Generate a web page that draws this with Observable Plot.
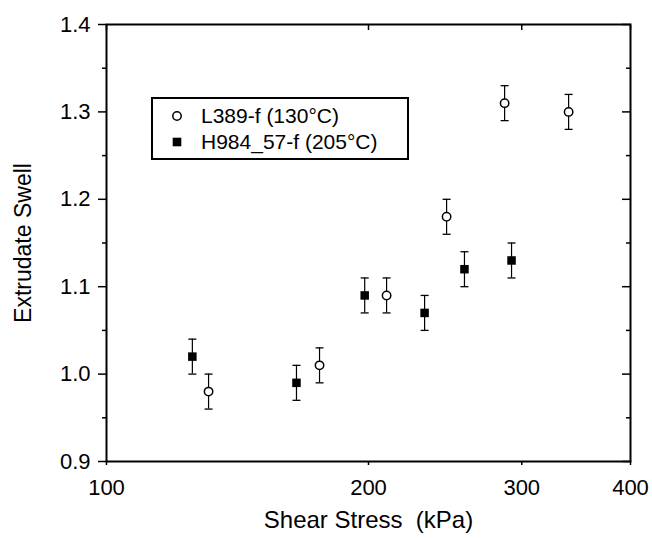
<!DOCTYPE html>
<html>
<head>
<meta charset="utf-8">
<script src="https://cdn.jsdelivr.net/npm/d3@7"></script>
<script src="https://cdn.jsdelivr.net/npm/@observablehq/plot@0.6"></script>
<style>
  html, body { margin: 0; padding: 0; background: #fff; }
  #wrap { position: relative; width: 652px; height: 538px; font-family: "Liberation Sans", Arial, sans-serif; }
  #legend { position: absolute; left: 151px; top: 97px; width: 254px; height: 59px; border: 2px solid #000; background: #fff; }
  .entry { position: absolute; left: 0; display: flex; align-items: center; font-size: 21px; line-height: 24px; color: #000; white-space: nowrap; }
  .entry svg { margin-left: 18px; margin-right: 18px; }
</style>
</head>
<body>
<div id="wrap"></div>
<script>
// ---- data ----
const seriesNames = ["L389-f (130°C)", "H984_57-f (205°C)"];
const l389Stress = [131, 175.7, 209.8, 245.9, 286.7, 339.6];
const l389Swell  = [0.98, 1.01, 1.09, 1.18, 1.31, 1.30];
const h984Stress = [125.5, 165.3, 198, 232, 257.8, 292];
const h984Swell  = [1.02, 0.99, 1.09, 1.07, 1.12, 1.13];
const swellError = 0.02;
const xTicks = [100, 200, 300, 400];
const yMajor = [0.9, 1.0, 1.1, 1.2, 1.3, 1.4];
const yMinor = [0.95, 1.05, 1.15, 1.25, 1.35];
const xTitle = "Shear Stress \u00a0(kPa)";
const yTitle = "Extrudate Swell";

const l389 = l389Stress.map((x, i) => ({x, y: l389Swell[i], lo: l389Swell[i] - swellError, hi: l389Swell[i] + swellError}));
const h984 = h984Stress.map((x, i) => ({x, y: h984Swell[i], lo: h984Swell[i] - swellError, hi: h984Swell[i] + swellError}));
const all = l389.concat(h984);

const cap = { draw(ctx, size) { ctx.moveTo(-4, 0); ctx.lineTo(4, 0); } };

const font = "Liberation Sans, Arial, sans-serif";

const chart = Plot.plot({
  width: 652,
  height: 538,
  marginLeft: 106,
  marginRight: 22,
  marginTop: 24,
  marginBottom: 77,
  style: { fontFamily: font, fontSize: "22px", color: "#000", background: "#fff" },
  x: { type: "log", domain: [100, 400] },
  y: { domain: [0.9, 1.4] },
  marks: [
    // axes
    Plot.axisX({ anchor: "bottom", ticks: xTicks, tickSize: 4, tickPadding: 14, tickFormat: d3.format("d"), fontSize: 22, label: null, strokeWidth: 1.5 }),
    Plot.axisX({ anchor: "top", ticks: xTicks, tickSize: -5, tickFormat: () => "", label: null, strokeWidth: 1.5 }),
    Plot.axisY({ anchor: "left", ticks: yMajor, tickSize: 8, tickPadding: 8, tickFormat: d3.format(".1f"), fontSize: 22, label: null, strokeWidth: 1.5 }),
    Plot.axisY({ anchor: "left", ticks: yMinor, tickSize: 4, tickFormat: () => "", label: null, strokeWidth: 1.5 }),
    Plot.axisY({ anchor: "right", ticks: yMajor, tickSize: -9, tickFormat: () => "", label: null, strokeWidth: 1.5 }),
    Plot.axisY({ anchor: "right", ticks: yMinor, tickSize: -5, tickFormat: () => "", label: null, strokeWidth: 1.5 }),
    Plot.frame({ stroke: "#000", strokeWidth: 2 }),
    // error bars
    Plot.ruleX(all, { x: "x", y1: "lo", y2: "hi", stroke: "#000", strokeWidth: 1.2 }),
    Plot.dot(all, { x: "x", y: "lo", symbol: cap, stroke: "#000", strokeWidth: 1.3, fill: "none" }),
    Plot.dot(all, { x: "x", y: "hi", symbol: cap, stroke: "#000", strokeWidth: 1.3, fill: "none" }),
    // points
    Plot.dot(l389, { x: "x", y: "y", r: 4.2, symbol: "circle", fill: "#fff", stroke: "#000", strokeWidth: 1.5 }),
    Plot.dot(h984, { x: "x", y: "y", r: 4.8, symbol: "square", fill: "#000", stroke: "none" }),
    // titles
    Plot.text([xTitle], { frameAnchor: "bottom", lineAnchor: "middle", textAnchor: "middle", dy: 59, fontSize: 24, fill: "#000" }),
    Plot.text([yTitle], { frameAnchor: "left", lineAnchor: "middle", textAnchor: "middle", dx: -83, rotate: -90, fontSize: 23, fill: "#000" })
  ]
});

const wrap = document.getElementById("wrap");
wrap.appendChild(chart);

// legend
const legend = document.createElement("div");
legend.id = "legend";
const symbols = [
  '<svg width="12" height="12"><circle cx="6" cy="6" r="4.2" fill="#fff" stroke="#000" stroke-width="1.5"/></svg>',
  '<svg width="12" height="12"><rect x="1.7" y="1.7" width="8.6" height="8.6" fill="#000"/></svg>'
];
seriesNames.forEach((name, i) => {
  const e = document.createElement("div");
  e.className = "entry";
  e.style.top = (i === 0 ? 5 : 31) + "px";
  e.innerHTML = symbols[i] + "<span>" + name + "</span>";
  legend.appendChild(e);
});
wrap.appendChild(legend);
</script>
</body>
</html>
